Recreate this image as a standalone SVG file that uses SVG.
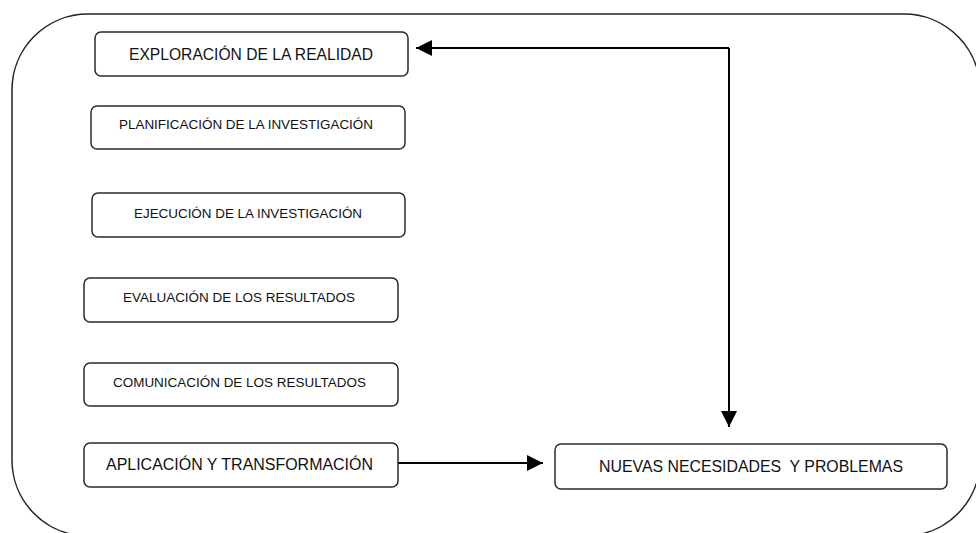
<svg xmlns="http://www.w3.org/2000/svg" width="976" height="533" viewBox="0 0 976 533">
<style>
.box{fill:#fff;stroke:#2a2a2a;stroke-width:1.5}
.t{font-family:"Liberation Sans",Arial,sans-serif;fill:#111;text-anchor:start}
.big{font-size:16px}
.sm{font-size:12.5px}
.ln{fill:none;stroke:#000;stroke-width:2}
</style>
<defs>
<marker id="ah" markerWidth="16" markerHeight="16" refX="16" refY="8" orient="auto" markerUnits="userSpaceOnUse">
<path d="M0,0 L16,8 L0,16 Z" fill="#000"/>
</marker>
</defs>
<rect x="12" y="14" width="968" height="522" rx="76" ry="76" fill="none" stroke="#222" stroke-width="1.5"/>
<g id="connectors">
<path class="ln" d="M398,463 H543" marker-end="url(#ah)"/>
<path class="ln" d="M729,48 V427" marker-end="url(#ah)"/>
<path class="ln" d="M729,48 H416" marker-end="url(#ah)"/>
</g>
<g id="n1"><rect class="box" x="95" y="32" width="313" height="44" rx="6"/><text class="t big" x="129" y="60" textLength="244" lengthAdjust="spacingAndGlyphs">EXPLORACIÓN DE LA REALIDAD</text></g>
<g id="n2"><rect class="box" x="91" y="106" width="314" height="43" rx="6"/><text class="t sm" x="119" y="129" textLength="254" lengthAdjust="spacingAndGlyphs">PLANIFICACIÓN DE LA INVESTIGACIÓN</text></g>
<g id="n3"><rect class="box" x="92" y="193" width="313" height="44" rx="6"/><text class="t sm" x="134" y="218" textLength="228" lengthAdjust="spacingAndGlyphs">EJECUCIÓN DE LA INVESTIGACIÓN</text></g>
<g id="n4"><rect class="box" x="84" y="278" width="314" height="44" rx="6"/><text class="t sm" x="123" y="302" textLength="232" lengthAdjust="spacingAndGlyphs">EVALUACIÓN DE LOS RESULTADOS</text></g>
<g id="n5"><rect class="box" x="84" y="363" width="314" height="43" rx="6"/><text class="t sm" x="113" y="387" textLength="253" lengthAdjust="spacingAndGlyphs">COMUNICACIÓN DE LOS RESULTADOS</text></g>
<g id="n6"><rect class="box" x="84" y="443" width="314" height="44" rx="6"/><text class="t big" x="106" y="470" textLength="267" lengthAdjust="spacingAndGlyphs">APLICACIÓN Y TRANSFORMACIÓN</text></g>
<g id="n7"><rect class="box" x="555" y="444" width="392" height="45" rx="6"/><text class="t big" x="599" y="472" textLength="304" lengthAdjust="spacingAndGlyphs" xml:space="preserve">NUEVAS NECESIDADES  Y PROBLEMAS</text></g>
</svg>
